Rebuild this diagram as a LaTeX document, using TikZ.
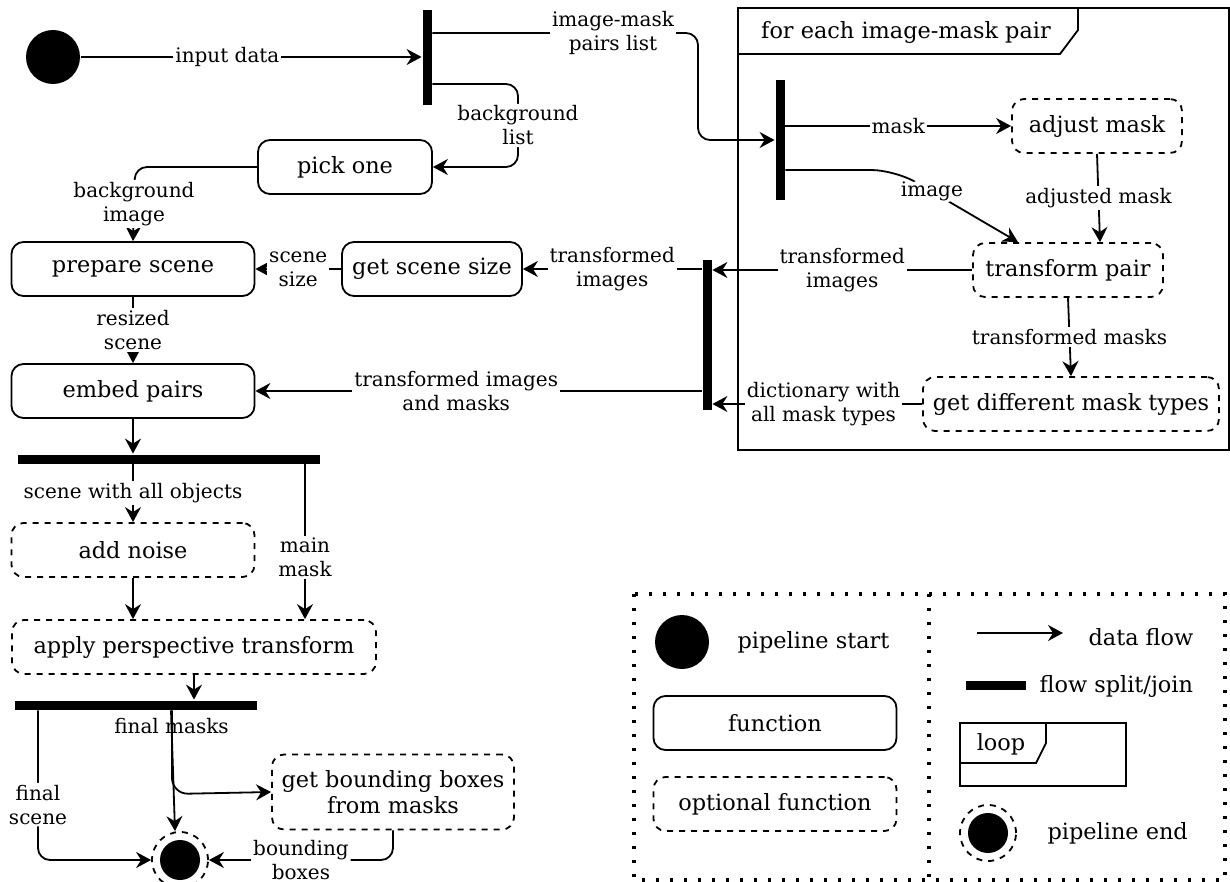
\documentclass[tikz,border=0pt]{standalone}
\usepackage{fontspec}
\setmainfont{DejaVu Serif}
\usetikzlibrary{arrows.meta}
\usetikzlibrary{calc}
\tikzset{l/.style={fill=white, inner sep=1pt, align=center}}
\tikzset{big/.style={font=\fontsize{11.2}{13}\selectfont}}
\tikzset{fn/.style={draw, big, rounded corners=6pt, minimum height=27pt, inner sep=2pt, align=center}}
\tikzset{opt/.style={fn, dashed}}
\tikzset{bar/.style={fill=black, inner sep=0pt, minimum size=4.5pt}}
\tikzset{dot/.style={circle, fill=black, inner sep=0pt, minimum size=20pt}}
\tikzset{fin/.style={circle, draw, dashed, inner sep=0pt, minimum size=28pt}}
\tikzset{flow/.style={-{Stealth[length=7.5pt, width=8pt, inset=2.5pt]}}}
\tikzset{key/.style={line width=1.6pt, dash pattern=on 1.6pt off 5.4pt}}

\begin{document}
\begin{tikzpicture}[x=0.5pt, y=-0.5pt, line width=0.9pt, font=\fontsize{10}{12}\selectfont]
  \useasboundingbox (0,0) rectangle (1230,882);
  \node [circle, fill, minimum size=27pt, inner sep=0pt] (start) at (53,57) {};
  \node [bar, minimum height=47.5pt] (fork) at (427,57.5) {};
  \node [fn, minimum width=87pt] (pick) at (345,167) {pick one};
  \node [fn, minimum width=121.5pt] (prep) at (133,269) {prepare scene};
  \node [fn, minimum width=90pt] (size) at (432,269) {get scene size};
  \node [fn, minimum width=121.5pt] (embed) at (133,391) {embed pairs};
  \node [bar, minimum height=75pt] (join) at (707,335) {};
  \node [bar, minimum width=151pt] (split) at (169,459) {};
  \node [opt, minimum width=121.5pt] (noise) at (133,550) {add noise};
  \node [opt, minimum width=182pt] (persp) at (194,647) {apply perspective transform};
  \node [bar, minimum width=121pt] (merge) at (136,705) {};
  \node [opt, minimum width=121pt, minimum height=37.5pt] (bbox) at (393,792) {get bounding boxes\\from masks};
  \node [fin] (end) at (180,860) {};
  \node [dot] (endin) at (end) {};

  \draw (738,8) rectangle (1229,450);
  \draw (738,54) -- (1060,54) -- (1078,30) -- (1078,8);
  \node [big] (looplbl) at (906,32) {for each image-mask pair};
  \node [bar, minimum height=60pt] (pfork) at (780,140) {};
  \node [opt, minimum width=85pt] (adj) at (1097,126) {adjust mask};
  \node [opt, minimum width=95pt] (tp) at (1068,270) {transform pair};
  \node [opt, minimum width=148pt] (types) at (1071,404) {get different mask types};

  \draw [flow] (start) -- node [l, pos=0.43] {input data} (start -| fork.west);
  \draw [flow, rounded corners=6pt] (fork.east |- 0,33) -- node [l, pos=0.68] {image-mask\\pairs list} (698,33) -- (698,140) -- (pfork.west);
  \draw [flow, rounded corners=6pt] (fork.east |- 0,84) -- (518,84) -- node [l] {background\\list} (518,167) -- (pick.east);
  \draw [flow, rounded corners=6pt] (pick.west) -- (135,167) -- node [l] {background\\image} (prep.north);
  \draw [flow] (size) -- node [l] {scene\\size} (prep);
  \draw [flow] (join.west |- size.east) -- node [l] {transformed\\images} (size.east);
  \draw [flow] (join.west |- embed.east) -- node [l, pos=0.55] {transformed images\\and masks} (embed.east);
  \draw [flow] (prep) -- node [l] {resized\\scene} (embed);
  \draw [flow] (embed) -- (embed.south |- split.north);
  \draw [flow] (noise.north |- split.south) -- node [l] {scene with all objects} (noise.north);
  \draw [flow] (split.south -| 305,0) -- node [l, pos=0.6] {main\\mask} (persp.north -| 305,0);
  \draw [flow] (noise) -- (noise.south |- persp.north);
  \draw [flow] (persp.south) -- (persp.south |- merge.north);
  \draw [flow, rounded corners=6pt] (merge.south -| 38,0) -- node [l, pos=0.63] {final\\scene} (38,860) -- (end.west);
  \draw [flow] (merge.south -| 171,0) -- node [pos=0.13, inner sep=1pt] {final masks} (end.north -| 175,0);
  \draw [flow, rounded corners=8pt] (merge.south -| 172,0) -- (172,794) -- (bbox.west);
  \draw [flow, rounded corners=6pt] (bbox.south) -- (393,860) -- node [l] {bounding\\boxes} (end.east);

  \draw [flow] (pfork.east |- adj.west) -- node [l] {mask} (adj.west);
  \draw [flow, rounded corners=12pt] (pfork.east |- 0,170) -- (895,170) -- node [l, pos=0.3] {image} ([xshift=-25pt]tp.north);
  \draw [flow] (adj.south) -- node [l] {adjusted mask} ([xshift=16pt]tp.north);
  \draw [flow] (tp.west) -- node [l] {transformed\\images} (join.east |- tp.west);
  \draw [flow] (tp.south) -- node [l] {transformed masks} (types.north);
  \draw [flow] (types.west) -- node [l, pos=0.47] {dictionary with\\all mask types} (join.east |- types.west);

  \draw [key] (634,594) rectangle (1225,880);
  \draw [key] (929,594) -- (929,880);
  \node [circle, fill, minimum size=27pt, inner sep=0pt] (kstart) at (682,642) {};
  \node [big, anchor=west] (kstartl) at (730,642) {pipeline start};
  \node [fn, minimum width=121.5pt] (kfn) at (775,723) {function};
  \node [opt, minimum width=121.5pt] (kopt) at (775,804) {optional function};
  \coordinate (ka) at (977,633);
  \coordinate (kb) at (1063,633);
  \draw [flow] (ka) -- (kb);
  \node [big, anchor=west] (kflow) at (1081,637) {data flow};
  \node [bar, minimum width=30pt] (kbar) at (996,685) {};
  \node [big, anchor=west] (ksplit) at (1032,686) {flow split/join};
  \draw (960,723) rectangle (1126,786);
  \draw (960,763) -- (1036,763) -- (1046,743) -- (1046,723);
  \node [big] (kloop) at (1001,744) {loop};
  \node [fin] (kend) at (988,833) {};
  \node [dot] (kendin) at (kend) {};
  \node [big, anchor=west] (kendl) at (1040,833) {pipeline end};
\end{tikzpicture}
\end{document}
